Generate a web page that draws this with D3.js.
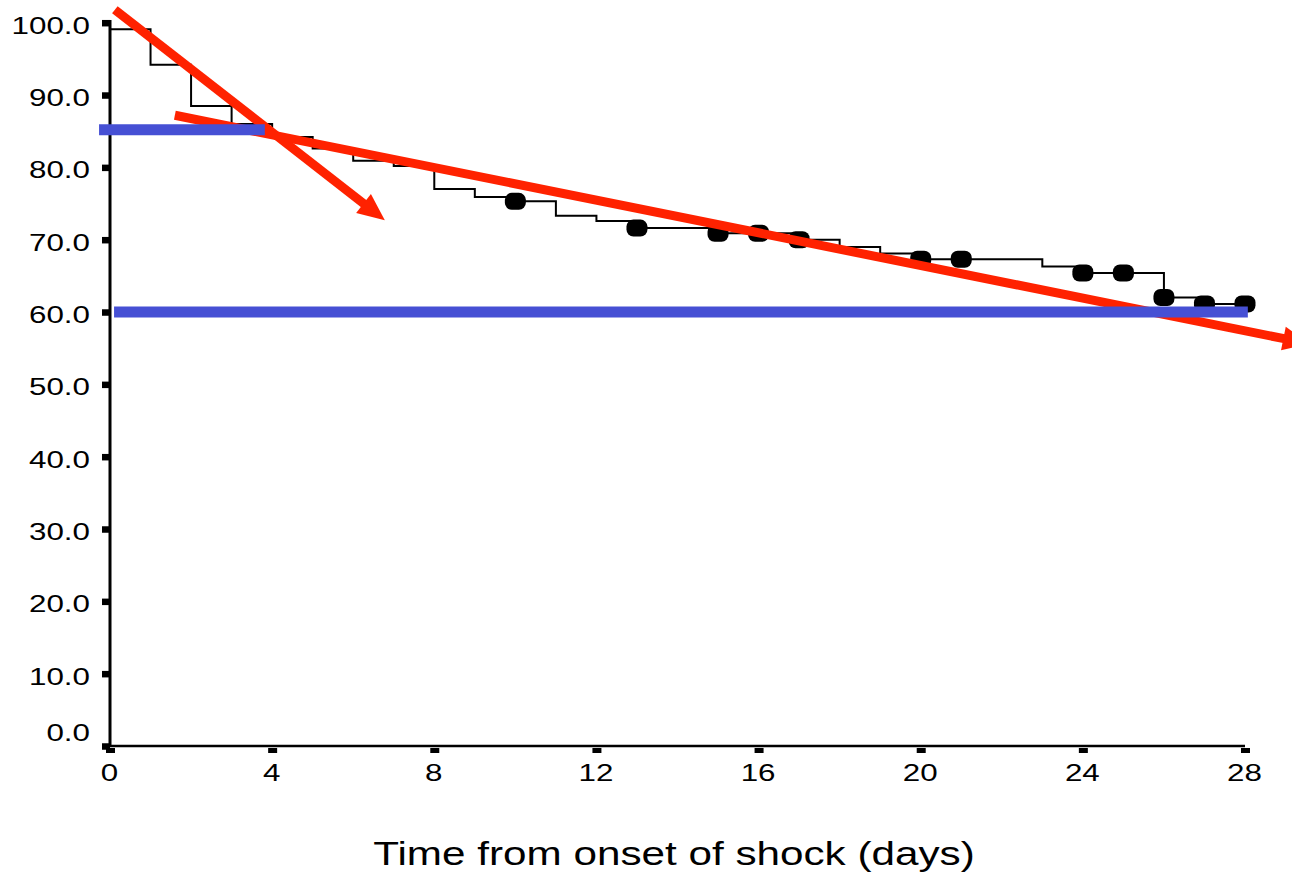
<!DOCTYPE html>
<html>
<head>
<meta charset="utf-8">
<script src="https://cdn.jsdelivr.net/npm/d3@7"></script>
<style>
  html, body { margin: 0; padding: 0; background: #fff; }
  svg { display: block; }
  text { font-family: "Liberation Sans", Arial, sans-serif; fill: #000; }
</style>
</head>
<body>
<svg id="chart" width="1292" height="875"></svg>
<script>
// ---- data ----
const stepDays   = [0, 1, 2, 3, 4, 5, 6, 7, 8, 9, 10, 11, 12, 13, 15, 17, 18, 19, 20, 23, 24, 26, 27];
const stepValues = [99.1, 94.2, 88.5, 86.0, 84.2, 82.6, 80.9, 80.2, 77.0, 75.9, 75.3, 73.3, 72.6, 71.6, 70.9, 70.0, 69.0, 68.1, 67.3, 66.3, 65.4, 62.0, 61.1];
const followUpEnd = 28;

const censorDays   = [10, 13, 15, 16, 17, 20, 21, 24, 25, 26, 27, 28];
const censorValues = [75.3, 71.6, 70.9, 70.9, 70.0, 67.3, 67.3, 65.4, 65.4, 62.0, 61.1, 61.1];

const refLevels = [85.2, 60.0];
const refStart  = [-0.27, 0.1];
const refEnd    = [3.82, 28.07];

const trendStartDays   = [0.12, 1.6];
const trendStartValues = [101.8, 87.2];
const trendEndDays     = [6.78, 29.6];
const trendEndValues   = [72.7, 55.6];

const yTicks = [0, 10, 20, 30, 40, 50, 60, 70, 80, 90, 100];
const xTicks = [0, 4, 8, 12, 16, 20, 24, 28];
const xTitle = "Time from onset of shock (days)";

// ---- layout ----
const svg = d3.select("#chart");
const x = d3.scaleLinear().domain([0, 28]).range([110, 1245]);
const y = d3.scaleLinear().domain([0, 100]).range([746, 22.7]);
const SX = 1.28; // horizontal stretch of text in the original
const RED = "#ff2200", BLUE = "#4650d4";

// y axis
const yAxis = svg.append("g").attr("transform", `translate(${x(0)},0)`)
  .call(d3.axisLeft(y).tickValues(yTicks).tickSize(8).tickSizeOuter(0).tickFormat(d3.format(".1f")));
yAxis.select(".domain").remove();
yAxis.append("line").attr("x1", 0).attr("x2", 0).attr("y1", 20).attr("y2", y(0) + 1)
  .attr("stroke", "#000").attr("stroke-width", 3);
yAxis.selectAll(".tick line").attr("stroke", "#000").attr("stroke-width", 6.5).attr("x1", 0).attr("x2", -8);
yAxis.selectAll(".tick text")
  .attr("x", null)
  .attr("dy", d => d === 0 ? "-0.22em" : "0.43em")
  .attr("transform", `translate(-20,0) scale(${SX},1)`)
  .attr("text-anchor", "end")
  .style("font-size", "24.5px")
  .style("font-family", '"Liberation Sans", Arial, sans-serif')
  .attr("fill", "#000");

// x axis
const xAxis = svg.append("g").attr("transform", `translate(0,${y(0)})`)
  .call(d3.axisBottom(x).tickValues(xTicks).tickSize(7).tickSizeOuter(0).tickFormat(d3.format("d")));
xAxis.select(".domain").remove();
xAxis.append("line").attr("x1", x(0) - 1).attr("x2", x(28)).attr("y1", 0).attr("y2", 0)
  .attr("stroke", "#000").attr("stroke-width", 2.5);
xAxis.selectAll(".tick line").attr("stroke", "#000").attr("stroke-width", 9).attr("y1", 2).attr("y2", 7);
xAxis.selectAll(".tick text")
  .attr("y", null).attr("dy", null)
  .attr("transform", `translate(-1,35) scale(${SX},1)`)
  .attr("text-anchor", "middle")
  .style("font-size", "24.5px")
  .style("font-family", '"Liberation Sans", Arial, sans-serif')
  .attr("fill", "#000");

// title
svg.append("text")
  .attr("transform", `translate(674,865) scale(${SX},1)`)
  .attr("text-anchor", "middle")
  .style("font-size", "33px")
  .text(xTitle);

// KM step curve
const stepPts = stepDays.map((d, i) => [d, stepValues[i]]);
stepPts.push([followUpEnd, stepValues[stepValues.length - 1]]);
svg.append("path")
  .attr("d", d3.line().x(d => x(d[0])).y(d => y(d[1])).curve(d3.curveStepAfter)(stepPts))
  .attr("fill", "none").attr("stroke", "#000").attr("stroke-width", 2);

// censor markers
svg.append("g").selectAll("rect").data(censorDays).join("rect")
  .attr("x", d => x(d) - 10.5).attr("y", (d, i) => y(censorValues[i]) - 8.5)
  .attr("width", 21).attr("height", 17).attr("rx", 7).attr("ry", 7)
  .attr("fill", "#000");

// red trend arrows
const arrowLen = 27, arrowHalf = 12;
trendStartDays.forEach((d0, i) => {
  const x0 = x(d0), y0 = y(trendStartValues[i]);
  const x1 = x(trendEndDays[i]), y1 = y(trendEndValues[i]);
  const L = Math.hypot(x1 - x0, y1 - y0);
  const ux = (x1 - x0) / L, uy = (y1 - y0) / L;
  const bx = x1 - ux * arrowLen, by = y1 - uy * arrowLen;
  svg.append("line")
    .attr("x1", x0).attr("y1", y0).attr("x2", bx + ux * 2).attr("y2", by + uy * 2)
    .attr("stroke", RED).attr("stroke-width", 9);
  svg.append("path")
    .attr("d", `M${x1},${y1}L${bx - uy * arrowHalf},${by + ux * arrowHalf}L${bx + uy * arrowHalf},${by - ux * arrowHalf}Z`)
    .attr("fill", RED);
});

// blue reference lines
svg.append("g").selectAll("line").data(refLevels).join("line")
  .attr("x1", (d, i) => x(refStart[i])).attr("x2", (d, i) => x(refEnd[i]))
  .attr("y1", d => y(d)).attr("y2", d => y(d))
  .attr("stroke", BLUE).attr("stroke-width", 11);
</script>
</body>
</html>
